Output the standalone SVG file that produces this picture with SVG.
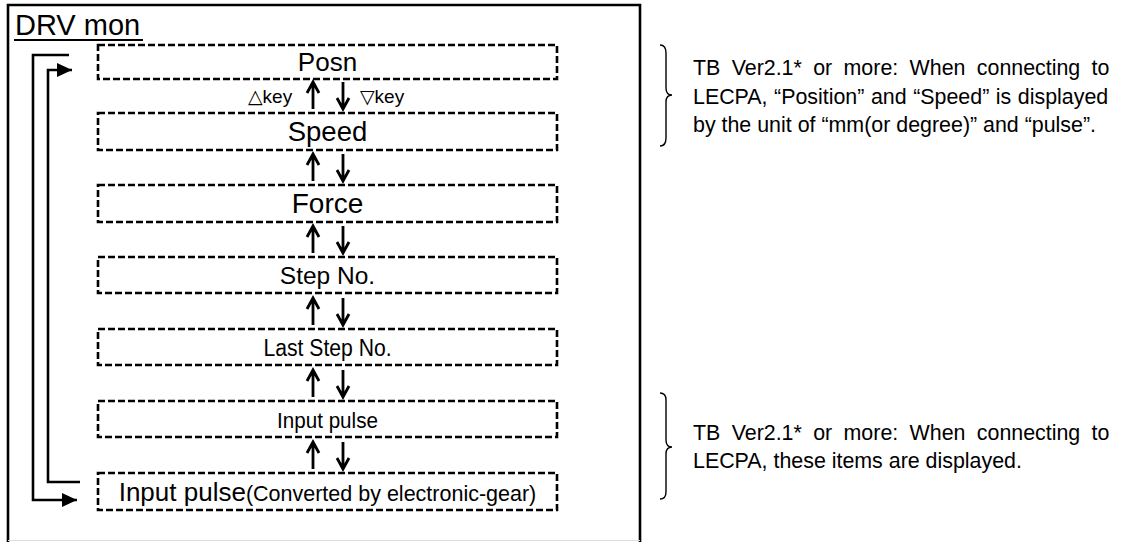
<svg xmlns="http://www.w3.org/2000/svg" width="1121" height="542" viewBox="0 0 1121 542">
<defs>
<style>
.frame{fill:none;stroke:#000;stroke-width:2.6}
.box{fill:#fff;stroke:#000;stroke-width:2.6;stroke-dasharray:7 3}
.lbl{font-family:"Liberation Sans",Arial,sans-serif;font-size:26px;fill:#000;text-anchor:middle}
.small{font-size:21.5px}
.key{font-family:"Liberation Sans","DejaVu Sans",Arial,sans-serif;font-size:19px;fill:#000}
.note{font-family:"Liberation Sans",Arial,sans-serif;font-size:21.4px;fill:#000}
.loop{fill:none;stroke:#000;stroke-width:2.6}
.ud{fill:none;stroke:#000;stroke-width:2.8}
.brace{fill:none;stroke:#000;stroke-width:1.4}
</style>
<marker id="ah" markerWidth="15" markerHeight="14" refX="15" refY="7" orient="auto" markerUnits="userSpaceOnUse">
<path d="M0,0 L15,7 L0,14 Z" fill="#000"/>
</marker>
</defs>
<rect width="1121" height="542" fill="#fff"/>
<g id="frame">
<path class="frame" d="M8,545 V5 H640 V545"/>
<line x1="8" y1="540.5" x2="640" y2="540.5" stroke="#ddd" stroke-width="1"/>
<text x="15" y="35" font-family="Liberation Sans,Arial,sans-serif" font-size="29">DRV mon</text>
<line x1="14" y1="40" x2="143" y2="40" stroke="#000" stroke-width="2"/>
</g>
<g id="n-posn"><rect class="box" x="98" y="45" width="459" height="34"/><text class="lbl" x="327.5" y="71">Posn</text></g>
<g id="n-speed"><rect class="box" x="98" y="113" width="459" height="37"/><text class="lbl" x="327.5" y="141" style="font-size:27.5px">Speed</text></g>
<g id="n-force"><rect class="box" x="98" y="185" width="459" height="37"/><text class="lbl" x="327.5" y="213" style="font-size:28px">Force</text></g>
<g id="n-step"><rect class="box" x="98" y="257" width="459" height="36"/><text class="lbl" x="327.5" y="284" style="font-size:24.5px">Step No.</text></g>
<g id="n-last"><rect class="box" x="98" y="329" width="459" height="36"/><text class="lbl" x="327.5" y="356" style="font-size:23px" textLength="128" lengthAdjust="spacingAndGlyphs">Last Step No.</text></g>
<g id="n-input"><rect class="box" x="98" y="401" width="459" height="36"/><text class="lbl" x="327.5" y="428" style="font-size:22.5px" textLength="101" lengthAdjust="spacingAndGlyphs">Input pulse</text></g>
<g id="n-conv"><rect class="box" x="98" y="473" width="459" height="37"/><text class="lbl" x="327.5" y="501">Input pulse<tspan class="small">(Converted by electronic-gear)</tspan></text></g>
<g id="connectors">
<path class="loop" d="M69,55 H33 V500 H77" marker-end="url(#ah)"/>
<path class="loop" d="M80,482 H48 V70 H72" marker-end="url(#ah)"/>
<g class="ud">
<path d="M313,109 V84 M307,93 L313,82 L319,93 M343,82 V107 M337,98 L343,109 L349,98"/>
<path d="M313,181 V156 M307,165 L313,154 L319,165 M343,154 V179 M337,170 L343,181 L349,170"/>
<path d="M313,253 V228 M307,237 L313,226 L319,237 M343,226 V251 M337,242 L343,253 L349,242"/>
<path d="M313,325 V300 M307,309 L313,298 L319,309 M343,298 V323 M337,314 L343,325 L349,314"/>
<path d="M313,397 V372 M307,381 L313,370 L319,381 M343,370 V395 M337,386 L343,397 L349,386"/>
<path d="M313,469 V444 M307,453 L313,442 L319,453 M343,442 V467 M337,458 L343,469 L349,458"/>
</g>
<text class="key" x="248" y="103">△key</text>
<text class="key" x="360" y="103">▽key</text>
</g>
<g id="note1">
<path class="brace" d="M660,45 Q666,45 666,53 V88 Q666,95 672,95 Q666,95 666,102 V138 Q666,146 660,146"/>
<text class="note" x="693" y="75" word-spacing="5.4">TB Ver2.1* or more: When connecting to</text>
<text class="note" x="693" y="103.5" word-spacing="0.6">LECPA, “Position” and “Speed” is displayed</text>
<text class="note" x="693" y="132">by the unit of “mm(or degree)” and “pulse”.</text>
</g>
<g id="note2">
<path class="brace" d="M660,393 Q666,393 666,400 V440 Q666,447 672,447 Q666,447 666,454 V492 Q666,499 660,499"/>
<text class="note" x="693" y="440" word-spacing="5.4">TB Ver2.1* or more: When connecting to</text>
<text class="note" x="693" y="468">LECPA, these items are displayed.</text>
</g>
</svg>
